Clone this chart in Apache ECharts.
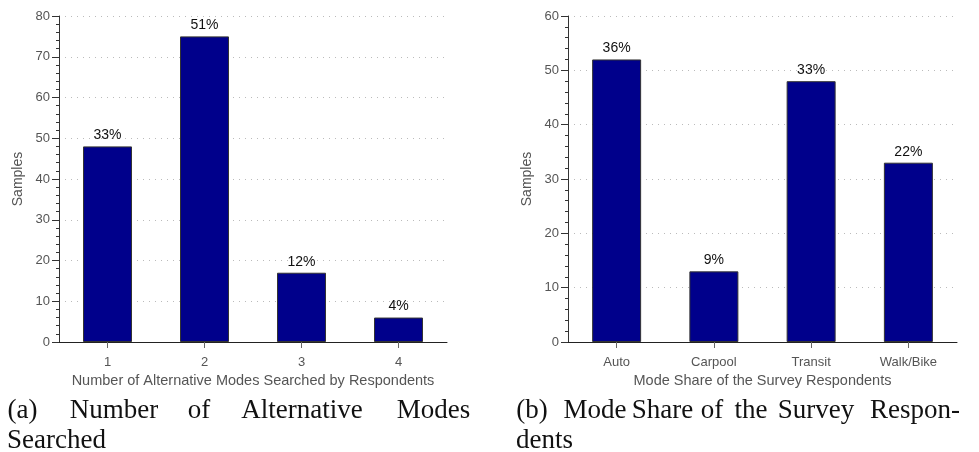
<!DOCTYPE html>
<html>
<head>
<meta charset="utf-8">
<script src="https://cdn.jsdelivr.net/npm/echarts@6/dist/echarts.min.js"></script>
<style>
html,body{margin:0;padding:0;background:#fff;}
#chart{width:979px;height:452px;}
</style>
</head>
<body>
<div id="chart"></div>
<script>
// ---- Data ----
const modesCategories = ['1', '2', '3', '4'];
const modesValues = [48, 75, 17, 6];
const modesLabels = ['33%', '51%', '12%', '4%'];

const shareCategories = ['Auto', 'Carpool', 'Transit', 'Walk/Bike'];
const shareValues = [52, 13, 48, 33];
const shareLabels = ['36%', '9%', '33%', '22%'];

const yTitle = 'Samples';
const xTitleA = 'Number of Alternative Modes Searched by Respondents';
const xTitleB = 'Mode Share of the Survey Respondents';

const captionA1 = ['(a)', 'Number', 'of', 'Alternative', 'Modes'];
const captionA2 = ['Searched'];
const captionB1 = ['(b)', 'Mode', 'Share', 'of', 'the', 'Survey', 'Respon-'];
const captionB2 = ['dents'];

// ---- Chart ----
const chart = echarts.init(document.getElementById('chart'), null, {renderer: 'canvas'});

const sans = 'Liberation Sans, Arial, sans-serif';
const serif = 'Liberation Serif, Times New Roman, serif';
const grey = '#555';

function xAxis(idx, cats, name) {
  return {
    type: 'category', gridIndex: idx, data: cats,
    name: name, nameLocation: 'middle', nameGap: 29,
    nameTextStyle: {fontFamily: sans, fontSize: 14.5, color: grey},
    axisLine: {lineStyle: {color: '#222', width: 1}},
    axisTick: {show: true, alignWithLabel: true, length: 6, lineStyle: {color: '#666'}},
    axisLabel: {fontFamily: sans, fontSize: 13, color: grey, margin: 14},
    splitLine: {show: false}
  };
}
function yAxis(idx, max, name) {
  return {
    type: 'value', gridIndex: idx, min: 0, max: max, interval: 10,
    name: name, nameLocation: 'middle', nameGap: 34,
    nameTextStyle: {fontFamily: sans, fontSize: 14, color: grey},
    axisLine: {show: true, lineStyle: {color: '#333', width: 1}},
    axisTick: {show: true, length: 7, lineStyle: {color: '#333'}},
    minorTick: {show: true, splitNumber: 5, length: 3, lineStyle: {color: '#333'}},
    axisLabel: {fontFamily: sans, fontSize: 13, color: grey, margin: 9},
    splitLine: {show: true, lineStyle: {color: '#bbb', type: [1, 5], width: 1}}
  };
}
function barSeries(idx, values, labels) {
  return {
    type: 'bar', xAxisIndex: idx, yAxisIndex: idx, data: values,
    barWidth: 49,
    itemStyle: {color: '#00008B', borderColor: '#333', borderWidth: 1},
    label: {
      show: true, position: 'top', distance: 4,
      fontFamily: sans, fontSize: 14, color: '#111',
      formatter: p => labels[p.dataIndex]
    },
    silent: true
  };
}

// captions: each word placed at the reference word's centre (justified lines)
function words(list, xs, y, align) {
  return list.map((w, i) => ({
    type: 'text', x: xs[i], y: y,
    style: {text: w, font: '27px ' + serif, fill: '#111',
            textAlign: align, textVerticalAlign: 'top'}
  }));
}

const graphics = [].concat(
  words(captionA1, [22.5, 114, 199, 302, 433.5], 397, 'center'),
  words(captionA2, [7], 427, 'left'),
  words(captionB1, [532, 595, 662.5, 712, 751, 816, 915], 397, 'center'),
  words(captionB2, [516], 427, 'left')
);

chart.setOption({
  backgroundColor: '#fff',
  animation: false,
  grid: [
    {left: 59, top: 16, width: 388, height: 326},
    {left: 568, top: 16, width: 389, height: 326}
  ],
  xAxis: [xAxis(0, modesCategories, xTitleA), xAxis(1, shareCategories, xTitleB)],
  yAxis: [yAxis(0, 80, yTitle), yAxis(1, 60, yTitle)],
  series: [barSeries(0, modesValues, modesLabels), barSeries(1, shareValues, shareLabels)],
  graphic: graphics
});
</script>
</body>
</html>
